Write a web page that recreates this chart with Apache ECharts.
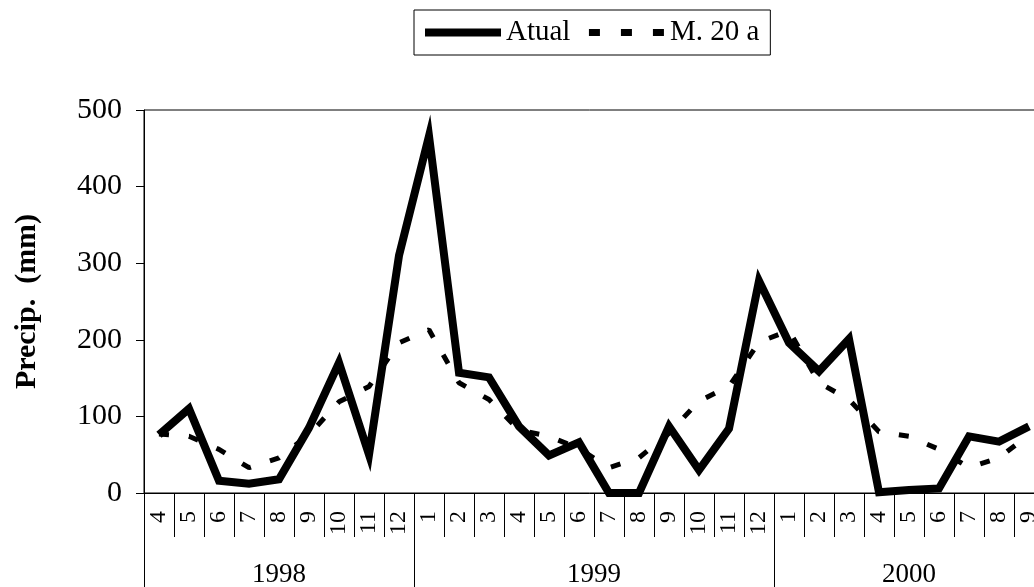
<!DOCTYPE html>
<html>
<head>
<meta charset="utf-8">
<script src="https://cdn.jsdelivr.net/npm/echarts@6/dist/echarts.min.js"></script>
<style>
html,body{margin:0;padding:0;background:#fff;}
#c{width:1034px;height:587px;}
</style>
</head>
<body>
<div id="c"></div>
<script>
// Data
var monthLabels = ['4','5','6','7','8','9','10','11','12',
  '1','2','3','4','5','6','7','8','9','10','11','12',
  '1','2','3','4','5','6','7','8','9'];
var years = ['1998','1999','2000'];
var monthsPerYear = [9, 12, 9];
var atual = [76,110,16,12,18,85,170,50,310,466,157,151,87,49,66,0,0,87,30,84,277,196,159,201,1,4,6,74,67,87];
var media20 = [77,74,57,33,46,76,119,139,196,213,144,122,82,74,58,33,46,78,120,139,197,212,144,122,80,74,57,33,46,76];
var yTicks = [0,100,200,300,400,500];

// year group boundaries and centers (in category units)
var yearBounds = [0], yearCenters = [];
monthsPerYear.forEach(function (n) {
  var start = yearBounds[yearBounds.length - 1];
  yearCenters.push(start + n / 2);
  yearBounds.push(start + n);
});

var FONT = 'Liberation Serif';
var chart = echarts.init(document.getElementById('c'), null, {renderer: 'canvas'});
chart.setOption({
  animation: false,
  backgroundColor: '#fff',
  legend: {
    left: 414, top: 10,
    padding: [8, 11, 8, 7],
    borderColor: '#000', borderWidth: 1,
    itemWidth: 76, itemHeight: 14, itemGap: 15,
    textStyle: {fontFamily: FONT, fontSize: 29, color: '#000'},
    data: [
      {name: 'Atual', itemStyle: {opacity: 0}, lineStyle: {width: 8}},
      {name: 'M. 20 a', itemStyle: {opacity: 0}, lineStyle: {width: 7, type: [11, 21]}}
    ]
  },
  grid: {
    left: 144, top: 110, width: 900, height: 383,
    outerBoundsMode: 'none',
    containLabel: false,
    show: true, borderColor: '#000', borderWidth: 1, backgroundColor: 'transparent'
  },
  xAxis: [{
    type: 'category',
    data: monthLabels,
    boundaryGap: true,
    axisLine: {show: true, lineStyle: {color: '#000', width: 1}},
    axisTick: {show: true, length: 44, interval: 0, alignWithLabel: false, lineStyle: {color: '#000', width: 1}},
    axisLabel: {rotate: 90, interval: 0, margin: 18, fontFamily: FONT, fontSize: 24, color: '#000'},
    splitLine: {show: false}
  }, {
    type: 'value',
    min: 0, max: yearBounds[yearBounds.length - 1],
    position: 'bottom',
    offset: 44,
    axisLine: {show: false},
    axisTick: {show: true, customValues: yearBounds, length: 50, lineStyle: {color: '#000', width: 1}},
    axisLabel: {
      customValues: yearCenters, margin: 24,
      fontFamily: FONT, fontSize: 27, color: '#000',
      formatter: function (v) { var i = yearCenters.indexOf(v); return i >= 0 ? years[i] : ''; }
    },
    splitLine: {show: false}
  }],
  yAxis: {
    type: 'value',
    min: yTicks[0], max: yTicks[yTicks.length - 1], interval: 100,
    name: 'Precip.  (mm)',
    nameLocation: 'middle',
    nameGap: 102,
    nameTextStyle: {fontFamily: FONT, fontSize: 30, fontWeight: 'bold', color: '#000'},
    axisLine: {show: true, lineStyle: {color: '#000', width: 1}},
    axisTick: {show: true, length: 8, lineStyle: {color: '#000', width: 1}},
    axisLabel: {margin: 22, fontFamily: FONT, fontSize: 30, color: '#000'},
    splitLine: {show: false}
  },
  series: [{
    name: 'Atual',
    type: 'line',
    data: atual,
    symbol: 'none',
    lineStyle: {color: '#000', width: 8, join: 'miter', miterLimit: 10, cap: 'butt'},
    itemStyle: {color: '#000'},
    z: 3
  }, {
    name: 'M. 20 a',
    type: 'line',
    data: media20,
    symbol: 'none',
    lineStyle: {color: '#000', width: 5, type: [10, 20], cap: 'butt'},
    itemStyle: {color: '#000'},
    z: 2
  }]
});
</script>
</body>
</html>
